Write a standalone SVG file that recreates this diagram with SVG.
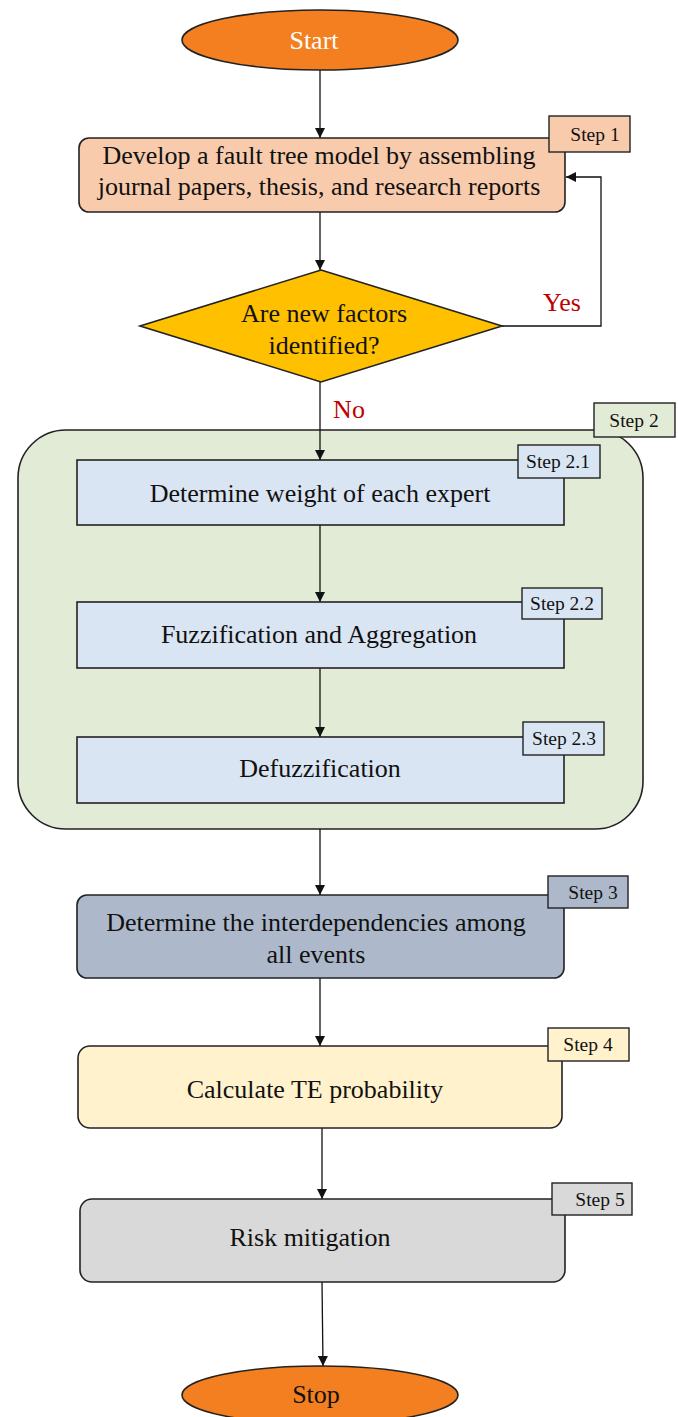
<svg xmlns="http://www.w3.org/2000/svg" width="678" height="1417" viewBox="0 0 678 1417">
<style>
text{font-family:"Liberation Serif","Times New Roman",serif;fill:#111}
.t{font-size:26px;text-anchor:middle}
.s{font-size:19.5px;text-anchor:middle}
.ln{stroke:#111;stroke-width:1.3;fill:none}
.bx{stroke:#222;stroke-width:1.6}
.lb{stroke:#222;stroke-width:1.4}
.red{fill:#c00000;font-size:26px}
</style>
<defs>
<marker id="ah" viewBox="0 0 10 10" refX="10" refY="5" markerWidth="10" markerHeight="10" markerUnits="userSpaceOnUse" orient="auto">
<path d="M0,0 L10,5 L0,10 z" fill="#111"/>
</marker>
</defs>

<g id="step2-container">
<rect x="18" y="430" width="625" height="399" rx="48" fill="#e2ebd6" class="bx"/>
<rect x="594" y="403" width="81" height="34" fill="#e2ebd6" class="lb"/>
<text x="634" y="427" class="s">Step 2</text>
</g>

<g id="connectors">
<line x1="320" y1="70" x2="320" y2="138" class="ln" marker-end="url(#ah)"/>
<line x1="320" y1="212" x2="320" y2="270" class="ln" marker-end="url(#ah)"/>
<polyline points="502,326 601,326 601,177 566,177" class="ln" marker-end="url(#ah)"/>
<line x1="320" y1="382" x2="320" y2="460" class="ln" marker-end="url(#ah)"/>
<line x1="320" y1="525" x2="320" y2="602" class="ln" marker-end="url(#ah)"/>
<line x1="320" y1="668" x2="320" y2="737" class="ln" marker-end="url(#ah)"/>
<line x1="320" y1="829" x2="320" y2="895" class="ln" marker-end="url(#ah)"/>
<line x1="320" y1="978" x2="320" y2="1046" class="ln" marker-end="url(#ah)"/>
<line x1="322" y1="1128" x2="322" y2="1199" class="ln" marker-end="url(#ah)"/>
<line x1="322" y1="1282" x2="323" y2="1366" class="ln" marker-end="url(#ah)"/>
<text x="562" y="311" class="red" text-anchor="middle">Yes</text>
<text x="349" y="418" class="red" text-anchor="middle">No</text>
</g>

<g id="start">
<ellipse cx="320" cy="40" rx="138" ry="30" fill="#f47f20" class="bx"/>
<text x="314" y="49" class="t" style="fill:#fff">Start</text>
</g>

<g id="step1">
<rect x="79" y="138" width="486" height="74" rx="10" fill="#f8cbad" class="bx"/>
<text x="319" y="164" class="t">Develop a fault tree model by assembling</text>
<text x="319" y="195" class="t">journal papers, thesis, and research reports</text>
<rect x="549" y="116" width="81" height="36" fill="#f8cbad" class="lb"/>
<text x="595" y="141" class="s">Step 1</text>
</g>

<g id="decision">
<polygon points="321,270 502,326 321,382 140,326" fill="#ffc000" class="bx"/>
<text x="324" y="322" class="t">Are new factors</text>
<text x="324" y="354" class="t">identified?</text>
</g>

<g id="step21">
<rect x="77" y="460" width="487" height="65" fill="#dae5f3" class="bx"/>
<text x="320" y="502" class="t">Determine weight of each expert</text>
<rect x="518" y="445" width="82" height="33" fill="#dae5f3" class="lb"/>
<text x="558" y="468" class="s">Step 2.1</text>
</g>

<g id="step22">
<rect x="77" y="602" width="487" height="66" fill="#dae5f3" class="bx"/>
<text x="319" y="643" class="t">Fuzzification and Aggregation</text>
<rect x="522" y="588" width="80" height="31" fill="#dae5f3" class="lb"/>
<text x="562" y="610" class="s">Step 2.2</text>
</g>

<g id="step23">
<rect x="77" y="737" width="487" height="66" fill="#dae5f3" class="bx"/>
<text x="320" y="777" class="t">Defuzzification</text>
<rect x="523" y="722" width="81" height="33" fill="#dae5f3" class="lb"/>
<text x="564" y="745" class="s">Step 2.3</text>
</g>

<g id="step3">
<rect x="77" y="895" width="487" height="83" rx="10" fill="#adb9ca" class="bx"/>
<text x="316" y="931" class="t">Determine the interdependencies among</text>
<text x="316" y="963" class="t">all events</text>
<rect x="548" y="876" width="80" height="32" fill="#adb9ca" class="lb"/>
<text x="593" y="899" class="s">Step 3</text>
</g>

<g id="step4">
<rect x="78" y="1046" width="484" height="82" rx="12" fill="#fff2cc" class="bx"/>
<text x="315" y="1098" class="t">Calculate TE probability</text>
<rect x="548" y="1028" width="81" height="33" fill="#fff2cc" class="lb"/>
<text x="588" y="1051" class="s">Step 4</text>
</g>

<g id="step5">
<rect x="80" y="1199" width="485" height="83" rx="12" fill="#d9d9d9" class="bx"/>
<text x="310" y="1246" class="t">Risk mitigation</text>
<rect x="552" y="1183" width="80" height="32" fill="#d9d9d9" class="lb"/>
<text x="600" y="1206" class="s">Step 5</text>
</g>

<g id="stop">
<ellipse cx="320" cy="1395" rx="138" ry="29" fill="#f47f20" class="bx"/>
<text x="316" y="1403" class="t">Stop</text>
</g>
</svg>
